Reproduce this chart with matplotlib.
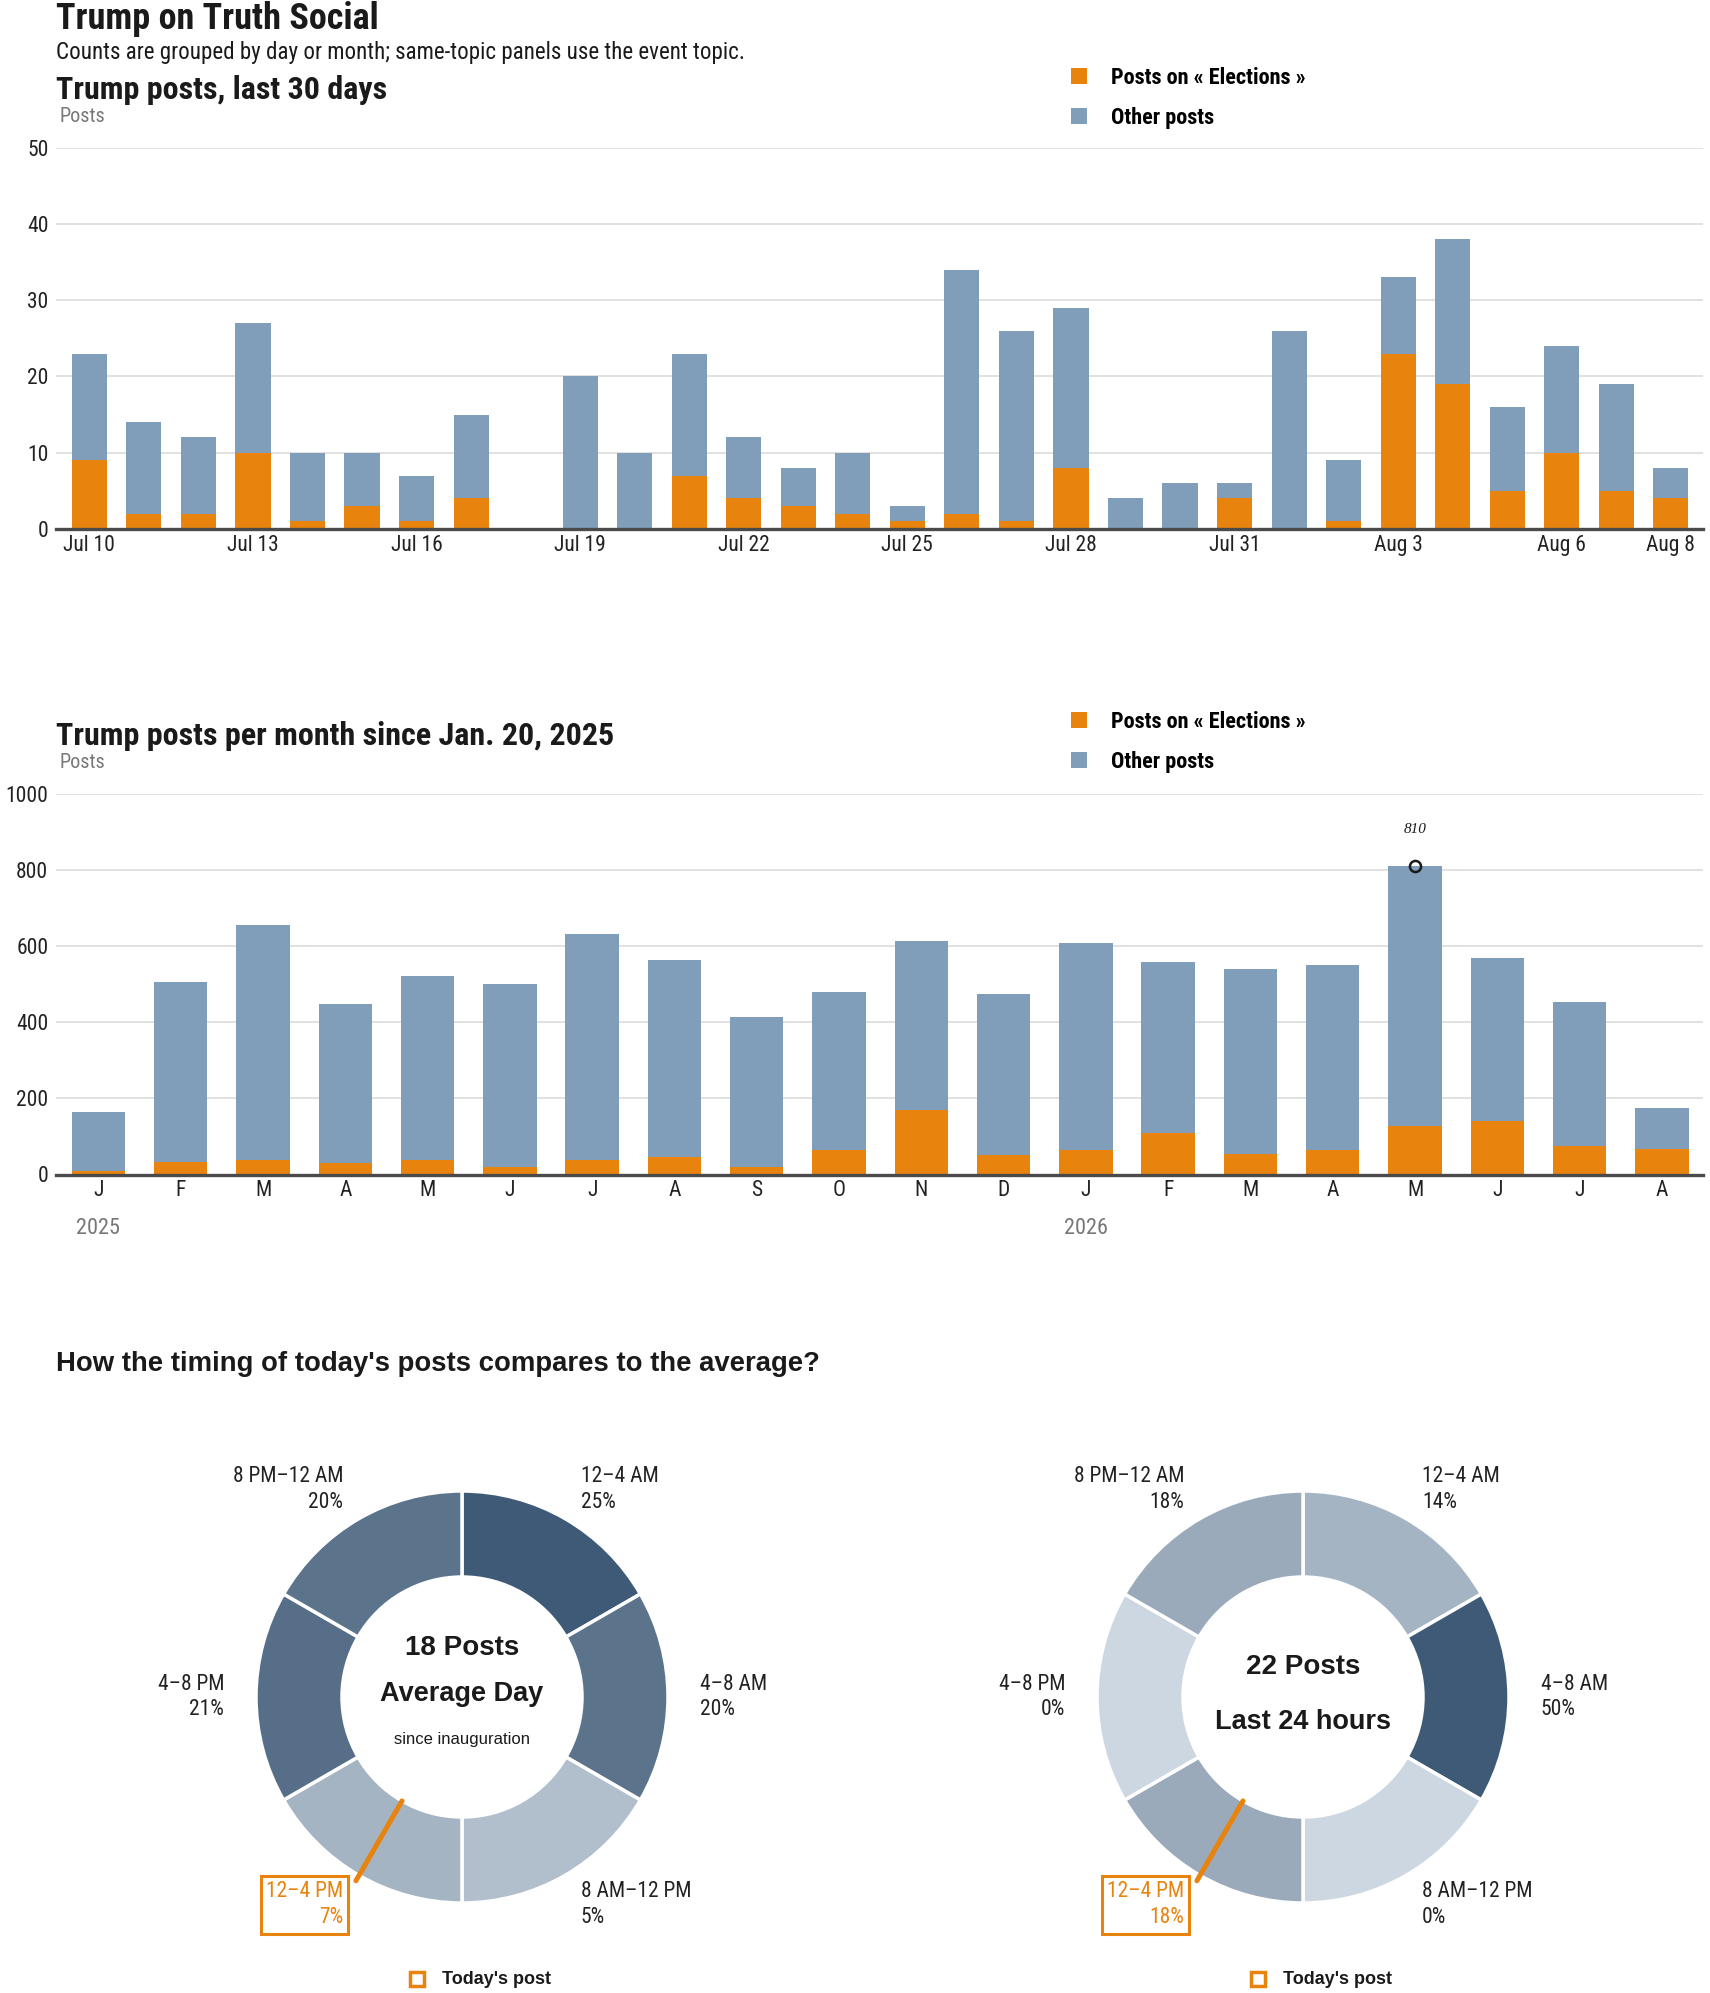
import numpy as np
import matplotlib
matplotlib.use('Agg')
import matplotlib.pyplot as plt
from matplotlib.colors import to_rgb

# ---- data -------------------------------------------------------------
day_labels = ['Jul 10', 'Jul 11', 'Jul 12', 'Jul 13', 'Jul 14', 'Jul 15', 'Jul 16',
              'Jul 17', 'Jul 18', 'Jul 19', 'Jul 20', 'Jul 21', 'Jul 22', 'Jul 23',
              'Jul 24', 'Jul 25', 'Jul 26', 'Jul 27', 'Jul 28', 'Jul 29', 'Jul 30',
              'Jul 31', 'Aug 1', 'Aug 2', 'Aug 3', 'Aug 4', 'Aug 5', 'Aug 6',
              'Aug 7', 'Aug 8']
day_total = [23, 14, 12, 27, 10, 10, 7, 15, 0, 20, 10, 23, 12, 8, 10,
             3, 34, 26, 29, 4, 6, 6, 26, 9, 33, 38, 16, 24, 19, 8]
day_elections = [9, 2, 2, 10, 1, 3, 1, 4, 0, 0, 0, 7, 4, 3, 2,
                 1, 2, 1, 8, 0, 0, 4, 0, 1, 23, 19, 5, 10, 5, 4]

month_labels = ['J', 'F', 'M', 'A', 'M', 'J', 'J', 'A', 'S', 'O', 'N', 'D',
                'J', 'F', 'M', 'A', 'M', 'J', 'J', 'A']
month_years = {0: '2025', 12: '2026'}
month_total = [165, 505, 655, 448, 520, 500, 630, 563, 414, 480, 613, 475,
               608, 558, 540, 550, 810, 568, 454, 175]
month_elections = [10, 33, 37, 30, 37, 19, 37, 45, 19, 63, 170, 51,
                   63, 109, 53, 63, 126, 140, 74, 66]

slots = ['12–4 AM', '4–8 AM', '8 AM–12 PM', '12–4 PM', '4–8 PM', '8 PM–12 AM']
avg_share = [25, 20, 5, 7, 21, 20]
today_share = [14, 50, 0, 18, 0, 18]
avg_posts = 18
today_posts = 22
today_post_hour = 14

# ---- style ------------------------------------------------------------
W, H = 1710, 1993
ORANGE = '#E8830E'
BLUE = '#809DB9'
GRID = '#dcdcdc'
BASE = '#4a4a4a'
INK = '#1a1a1a'
GREY = '#777777'
LIGHT = '#CDD7E1'
DARK = '#3F5A76'
NARROW = ['Liberation Sans Narrow', 'Roboto Condensed', 'DejaVu Sans']
WIDE = ['Liberation Sans', 'DejaVu Sans']
plt.rcParams['font.family'] = NARROW

AX_L, AX_R = 56, 1703


def rect(l, t, r, b):
    return [l / W, 1 - b / H, (r - l) / W, (b - t) / H]


def ftext(x, y, s, **kw):
    kw.setdefault('va', 'center')
    kw.setdefault('color', INK)
    fig.text(x / W, 1 - y / H, s, **kw)


def mix(t):
    a, b = np.array(to_rgb(LIGHT)), np.array(to_rgb(DARK))
    return tuple(a + (b - a) * t)


fig = plt.figure(figsize=(W / 100, H / 100), dpi=100)

ftext(56, 19, 'Trump on Truth Social', fontsize=26, weight='bold')
ftext(56, 52, 'Counts are grouped by day or month; same-topic panels use the event topic.',
      fontsize=16.6)


def bar_panel(top, bottom, x, total, elect, ymax, step, width, xlim):
    ax = fig.add_axes(rect(AX_L, top, AX_R, bottom))
    total = np.array(total)
    elect = np.array(elect)
    b1 = ax.bar(x, elect, width=width, color=ORANGE, zorder=2)
    b2 = ax.bar(x, total - elect, bottom=elect, width=width, color=BLUE, zorder=2)
    ax.set_ylim(0, ymax)
    ax.set_yticks(np.arange(0, ymax + 1, step))
    ax.set_xlim(*xlim)
    ax.grid(axis='y', color=GRID, lw=1.2, zorder=0)
    ax.set_axisbelow(True)
    for s in ax.spines.values():
        s.set_visible(False)
    ax.axhline(0, color=BASE, lw=2.4, zorder=3, clip_on=False)
    ax.tick_params(axis='both', length=0, labelsize=15.5, labelcolor='#222')
    ax.tick_params(axis='y', pad=5.5)
    ax.tick_params(axis='x', pad=4)
    return ax, b1, b2


def legend(handles, y_top):
    fig.legend(handles, ['Posts on « Elections »', 'Other posts'],
               loc='upper left', bbox_to_anchor=(1071 / W, 1 - y_top / H),
               bbox_transform=fig.transFigure, frameon=False,
               handlelength=0.72, handleheight=0.72, handletextpad=1.08,
               labelspacing=0.8, borderpad=0, borderaxespad=0,
               prop=dict(weight='bold', size=16))


# ---- panel 1: last 30 days -------------------------------------------
ftext(56, 90, 'Trump posts, last 30 days', fontsize=23, weight='bold')
ftext(59, 117, 'Posts', fontsize=14.5, color=GREY)
x1 = np.arange(len(day_labels))
ax1, b1, b2 = bar_panel(147.5, 529, x1, day_total, day_elections, 50, 10, 0.645,
                        (-0.612, 29.59))
ticks1 = list(range(0, len(day_labels) - 1, 3)) + [len(day_labels) - 1]
ax1.set_xticks(ticks1, [day_labels[i] for i in ticks1])
legend([b1, b2], 67)

# ---- panel 2: per month ------------------------------------------------
ftext(56, 736, 'Trump posts per month since Jan. 20, 2025', fontsize=23, weight='bold')
ftext(59, 763, 'Posts', fontsize=14.5, color=GREY)
x2 = np.arange(len(month_labels))
ax2, c1, c2 = bar_panel(793.5, 1174.5, x2, month_total, month_elections, 1000, 200, 0.65,
                        (-0.516, 19.5))
ax2.set_xticks(x2, month_labels)
for i, yr in month_years.items():
    ax2.annotate(yr, xy=(i, 0), xytext=(0, -39), textcoords='offset points',
                 ha='center', va='center', fontsize=16, color=GREY)
imax = int(np.argmax(month_total))
ax2.plot(imax, month_total[imax], 'o', ms=8, mfc='none', mec=INK, mew=1.8, zorder=4)
ax2.annotate(f'{month_total[imax]}', xy=(imax, month_total[imax]), xytext=(0, 26),
             textcoords='offset points', ha='center', va='center', fontsize=11,
             style='italic', family=['Liberation Serif', 'DejaVu Serif'], color=INK)
legend([c1, c2], 711)

# ---- panel 3: donuts ---------------------------------------------------
ftext(56, 1364, "How the timing of today's posts compares to the average?",
      fontsize=19.8, weight='bold', family=WIDE)

R = 206
CY = 1697


def donut(cx, share, center_lines):
    S = 600
    ax = fig.add_axes(rect(cx - S / 2, CY - S / 2, cx + S / 2, CY + S / 2))
    mx = max(share)
    colors = [mix(v / mx) for v in share]
    ax.pie(np.ones(len(share)), colors=colors, startangle=90, counterclock=False,
           radius=1, wedgeprops=dict(width=(R - 120) / R, edgecolor='white', linewidth=2.5))
    lim = S / 2 / R
    ax.set_xlim(-lim, lim)
    ax.set_ylim(-lim, lim)
    ax.set_aspect('equal')
    ax.axis('off')

    hi = today_post_hour // 4
    n = len(share)
    for i, (lab, v) in enumerate(zip(slots, share)):
        th = np.deg2rad((i + 0.5) * 360 / n)
        lx, ly = 1.155 * np.sin(th), 1.165 * np.cos(th)
        ha = 'left' if lx > 0 else 'right'
        kw = dict(ha=ha, va='center', fontsize=15.5, linespacing=1.3, color='#222')
        if i == hi:
            kw.update(color=ORANGE, bbox=dict(boxstyle='square,pad=0.25', fc='white',
                                              ec=ORANGE, lw=2.2))
        ax.text(lx, ly, f'{lab}\n{v}%', **kw)

    th = np.deg2rad(today_post_hour / 24 * 360)
    r = np.array([120 / R, 1.03])
    ax.plot(r * np.sin(th), r * np.cos(th), color=ORANGE, lw=3.6,
            solid_capstyle='round', zorder=5)

    for (txt, dy, size, weight) in center_lines:
        ax.text(0, -dy / R, txt, ha='center', va='center', fontsize=size,
                weight=weight, family=WIDE, color=INK)

    ax.plot(-45 / R, -282 / R, 's', ms=10, mfc='white', mec=ORANGE, mew=2.5, clip_on=False)
    ax.text(-20 / R, -282 / R, "Today's post", ha='left', va='center', fontsize=13,
            weight='bold', family=WIDE, color=INK)


donut(462, avg_share, [(f'{avg_posts} Posts', -49, 20, 'bold'),
                       ('Average Day', -3, 19.5, 'bold'),
                       ('since inauguration', 42, 12, 'normal')])
donut(1303, today_share, [(f'{today_posts} Posts', -30, 20, 'bold'),
                          ('Last 24 hours', 25, 19.5, 'bold')])

fig.savefig('out.png', dpi=100)
